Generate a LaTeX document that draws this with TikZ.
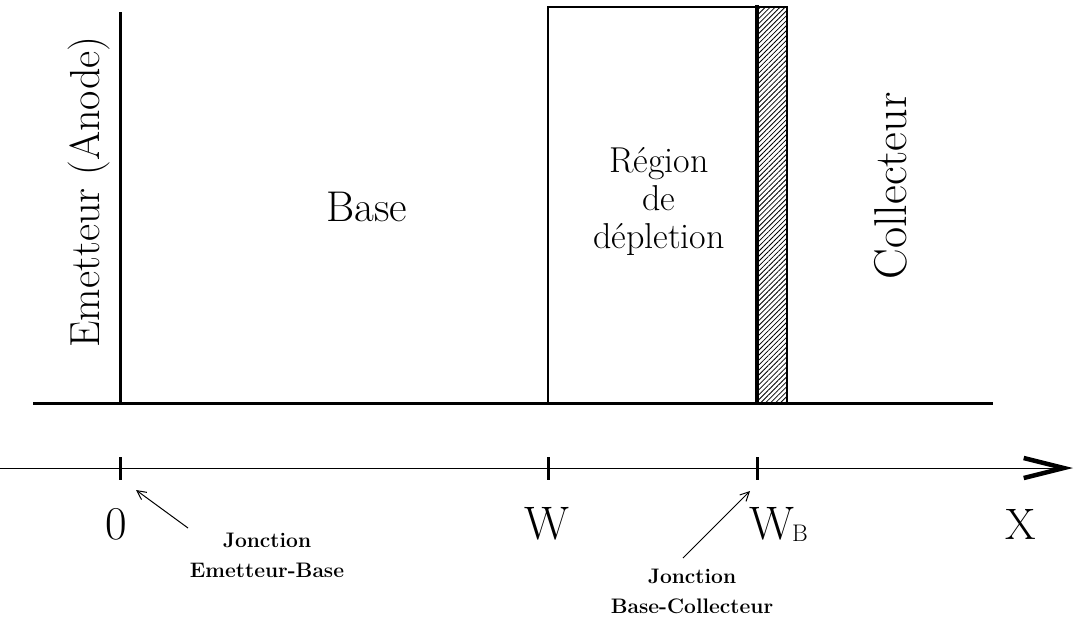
\documentclass[tikz,border=0pt]{standalone}
\usetikzlibrary{arrows.meta,patterns.meta}
\begin{document}
\begin{tikzpicture}[x=1pt,y=-1pt,
  thickline/.style={line width=3pt},
  tick/.style={line width=3pt},
  axislabel/.style={font=\fontsize{47}{50}\selectfont, inner sep=0pt, anchor=base},
  baselabel/.style={font=\fontsize{43}{46}\selectfont, inner sep=0pt, anchor=base},
  midlabel/.style={font=\fontsize{36}{38}\selectfont, inner sep=0pt, align=center},
  sidelabel/.style={font=\fontsize{42}{46}\selectfont, inner sep=0pt, rotate=90},
  smalllabel/.style={font=\fontsize{21}{30}\selectfont\bfseries, inner sep=0pt, align=center},
  pointer/.style={line width=1pt, -{Straight Barb[length=9pt,width=9pt]}}]
\useasboundingbox (0,0) rectangle (1075,619);
% depletion region
\draw[line width=1.3pt] (548,403) -- (548,7) -- (757,7);
\fill[pattern={Lines[angle=45,distance=3.5pt,line width=0.8pt]}] (757,7) rectangle (787,403);
\draw[line width=1.3pt] (757,7) -- (787,7) -- (787,403);
\draw[line width=4pt] (757,5) -- (757,403);
% emitter line and base line
\draw[thickline] (120,12) -- (120,403);
\draw[thickline] (33,403) -- (993,403);
% axis
\coordinate (ax0) at (0,468);
\coordinate (ax1) at (1073,468);
\draw[line width=0.8pt, -{Straight Barb[length=40pt,width=20pt,line width=4.5pt]}] (ax0) -- (ax1);
\draw[tick] (120,457) -- (120,480);
\draw[tick] (548,457) -- (548,480);
\draw[tick] (757,457) -- (757,480);
% labels
\node[axislabel] (zero) at (116,539) {0};
\node[axislabel] (w) at (547,539) {W};
\node[axislabel, anchor=base west] (wb) at (749,539) {W\kern-2pt{\fontsize{24}{28}\selectfont\raisebox{-2pt}{B}}};
\node[font=\fontsize{44}{48}\selectfont, inner sep=0pt, anchor=base] (xl) at (1021,539) {X};
\node[baselabel] (base) at (367,221) {Base};
\node[midlabel, anchor=base] (region) at (659,248) {R\'egion\\de\\d\'epletion};
\node[sidelabel] (emet) at (89,192) {Emetteur (Anode)};
\node[sidelabel, font=\fontsize{46}{50}\selectfont] (coll) at (891,186) {Collecteur};
% junction labels
\node[smalllabel] (jeb) at (267,555) {Jonction\hspace{30pt}\\Emetteur-Base};
\node[smalllabel] (jbc) at (692,591) {Jonction\hspace{42pt}\\Base-Collecteur};
\coordinate (t1) at (136,490);
\coordinate (t2) at (750,491);
\draw[pointer] (188,528) -- (t1);
\draw[pointer] (683,558) -- (t2);
\end{tikzpicture}
\end{document}
